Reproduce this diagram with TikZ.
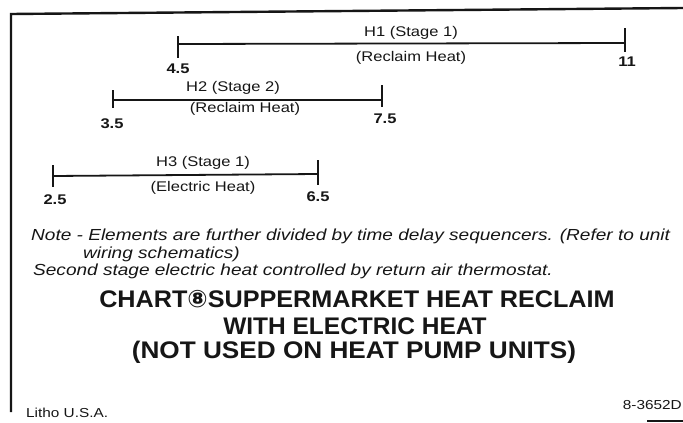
\documentclass[tikz,border=0pt]{standalone}
\usepackage{fontspec}
\setmainfont{Liberation Sans}
\newfontfamily\circfont{DejaVu Sans}
\newfontfamily\widefont[FakeStretch=1.18]{Liberation Sans}
\newfontfamily\notefont[FakeStretch=1.19]{Liberation Sans}
\usetikzlibrary{positioning}
\definecolor{chartink}{RGB}{22,22,22}

\tikzset{
  frameline/.style={draw=chartink,line width=2.4pt},
  barline/.style={draw=chartink,line width=1.8pt},
  barend/.style={draw=chartink,line width=2.4pt},
  endval/.style={text=chartink,inner sep=0pt,font=\widefont\fontsize{14}{14}\selectfont\bfseries},
  stagetxt/.style={text=chartink,inner sep=0pt,font=\widefont\fontsize{14}{14}\selectfont},
  notetxt/.style={text=chartink,inner sep=0pt,anchor=west,font=\notefont\fontsize{16}{16}\selectfont\itshape},
  titletxt/.style={text=chartink,inner sep=0pt,font=\fontsize{24}{24}\selectfont\bfseries},
  smalltxt/.style={text=chartink,inner sep=0pt,font=\widefont\fontsize{13}{13}\selectfont}
}

\begin{document}
\begin{tikzpicture}[x=1pt,y=-1pt]
  \useasboundingbox[fill=white] (0,0) rectangle (683,423);
  \coordinate (tl) at (11,14);\coordinate (bl) at (11,412);\coordinate (tr) at (683,8);
  \draw[frameline] (bl) -- (tl) -- (tr);

  \coordinate (h1a) at (178,44);\coordinate (h1b) at (625,43);
  \draw[barline] (h1a) -- (h1b);
  \draw[barend] ([yshift=8pt]h1a) -- ([yshift=-14pt]h1a);\draw[barend] ([yshift=15pt]h1b) -- ([yshift=-9pt]h1b);
  \node[stagetxt] (h1top) at (411,33) {H1 (Stage 1)};\node[stagetxt] (h1bot) at (411,58) {(Reclaim Heat)};
  \node[endval] (h1from) at (178,69) {4.5};\node[endval] (h1to) at (627,62) {11};

  \coordinate (h2a) at (113,100);\coordinate (h2b) at (382,100);
  \draw[barline] (h2a) -- (h2b);
  \draw[barend] ([yshift=10pt]h2a) -- ([yshift=-8pt]h2a);\draw[barend] ([yshift=15pt]h2b) -- ([yshift=-7pt]h2b);
  \node[stagetxt] (h2top) at (233,88) {H2 (Stage 2)};\node[stagetxt] (h2bot) at (245,109) {(Reclaim Heat)};
  \node[endval] (h2from) at (112,124) {3.5};\node[endval] (h2to) at (385,119) {7.5};

  \coordinate (h3a) at (53,176);\coordinate (h3b) at (318,174);
  \draw[barline] (h3a) -- (h3b);
  \draw[barend] ([yshift=11pt]h3a) -- ([yshift=-11pt]h3a);\draw[barend] ([yshift=14pt]h3b) -- ([yshift=-11pt]h3b);
  \node[stagetxt] (h3top) at (203,163) {H3 (Stage 1)};\node[stagetxt] (h3bot) at (203,188) {(Electric Heat)};
  \node[endval] (h3from) at (55,200) {2.5};\node[endval] (h3to) at (318,197) {6.5};

  \node[notetxt] (note1) at (31,236) {Note - Elements are further divided by time delay sequencers. (Refer to unit};
  \node[notetxt] (note2) at (83,254) {wiring schematics)};
  \node[notetxt] (note3) at (33,271) {Second stage electric heat controlled by return air thermostat.};

  \node[titletxt] (title1) at (357,299) {\addfontfeature{FakeStretch=1.05}CHART{\circfont ⑧}SUPPERMARKET HEAT RECLAIM};
  \node[titletxt] (title2) at (355,326) {\addfontfeature{FakeStretch=1.02}WITH ELECTRIC HEAT};
  \node[titletxt] (title3) at (354,352) {\addfontfeature{FakeStretch=1.09}(NOT USED ON HEAT PUMP UNITS)};

  \node[smalltxt,anchor=west] (litho) at (26,413) {Litho U.S.A.};
  \node[smalltxt,anchor=east] (partno) at (682,405) {8-3652D};
  \coordinate (rule1) at (647,421);\coordinate (rule2) at (683,421);
  \draw[barline,line width=1.2pt] (rule1) -- (rule2);
\end{tikzpicture}
\end{document}
